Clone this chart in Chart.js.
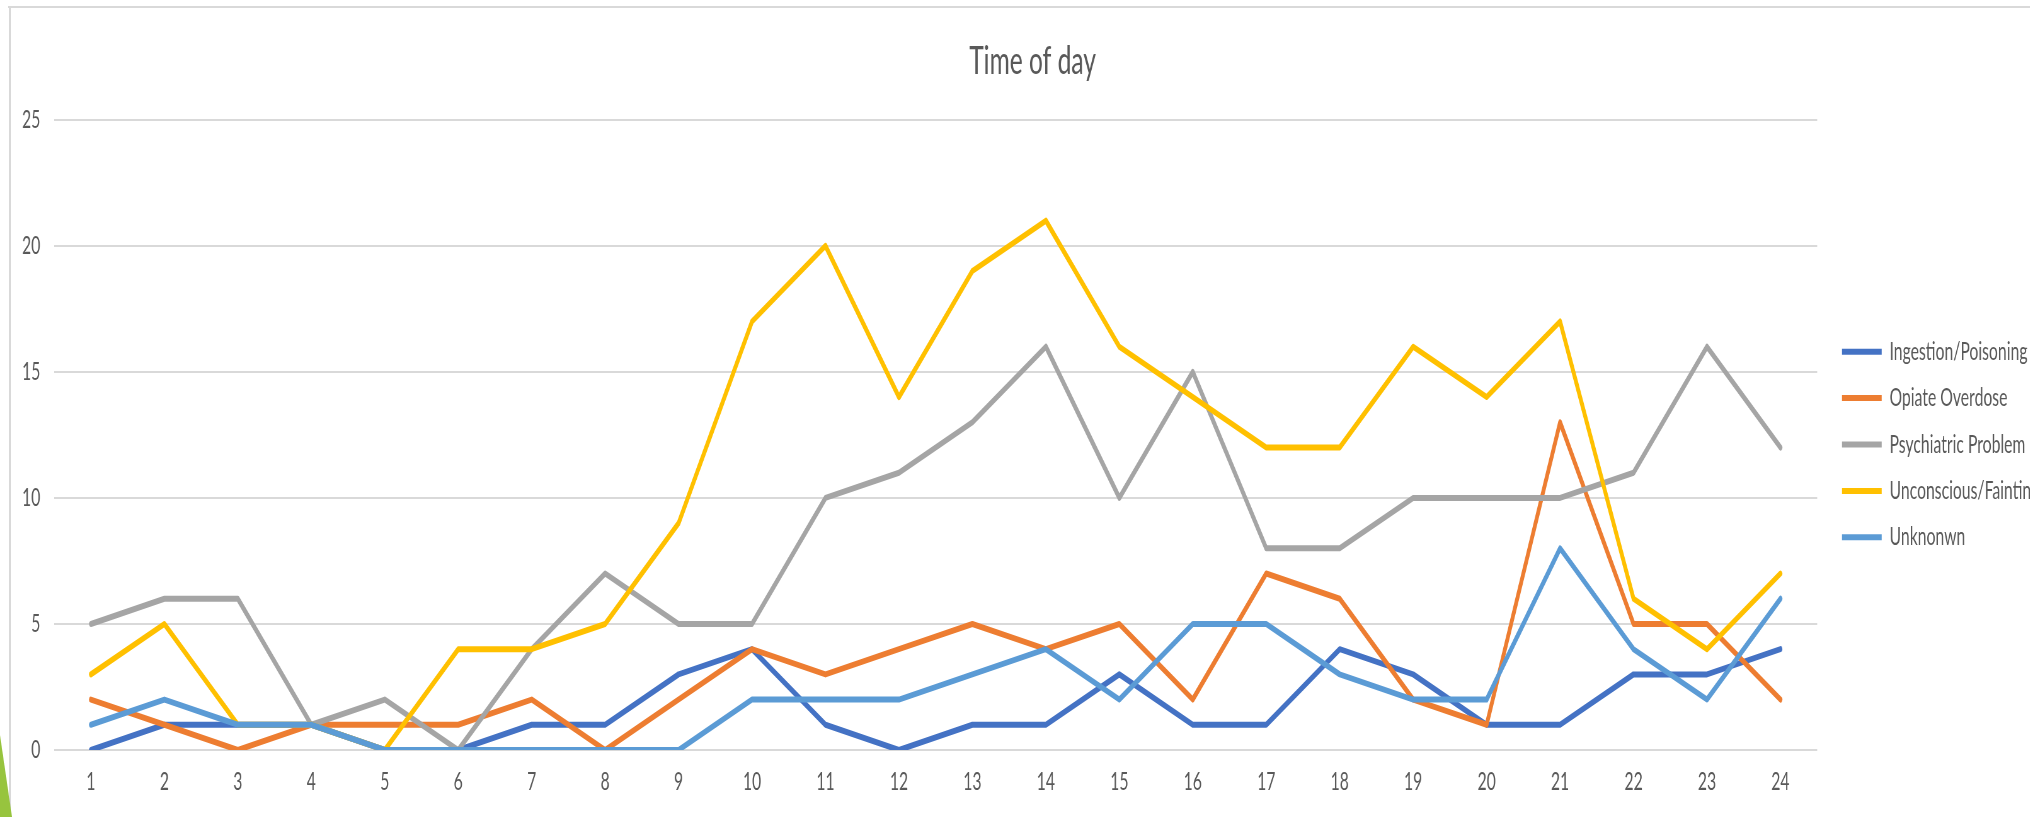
<!DOCTYPE html>
<html>
<head>
<meta charset="utf-8">
<script src="https://cdn.jsdelivr.net/npm/chart.js@4/dist/chart.umd.min.js"></script>
<style>
  html, body { margin: 0; padding: 0; background: #fff; }
  body { width: 2030px; height: 817px; overflow: hidden; position: relative; }
  /* slide frame bits around the chart */
  .frame-top { position: absolute; left: 8px; right: 0; top: 6px; height: 2px; background: #d9d9d9; }
  .frame-left { position: absolute; left: 9px; top: 6px; width: 2px; height: 811px; background: #d9d9d9; }
  .wedge { position: absolute; left: 0; top: 735px; width: 12px; height: 82px; background: #97c43e;
           clip-path: polygon(0 0, 100% 100%, 0 100%); }
  /* the source picture is squeezed horizontally, so the chart is drawn wide and squeezed the same way */
  #wrap { position: absolute; left: 0; top: 0; width: 3278px; height: 817px;
          transform: scaleX(0.63); transform-origin: 0 0; }
</style>
</head>
<body>
<div class="frame-top"></div>
<div class="frame-left"></div>
<div class="wedge"></div>
<div id="wrap"><canvas id="timeChart"></canvas></div>

<script>
// --- DATA (hour of day, calls per category) ---
const hours = ['1','2','3','4','5','6','7','8','9','10','11','12','13','14','15','16','17','18','19','20','21','22','23','24'];

const ingestionPoisoning = [0, 1, 1, 1, 0, 0, 1, 1, 3, 4, 1, 0, 1, 1, 3, 1, 1, 4, 3, 1, 1, 3, 3, 4];
const opiateOverdose     = [2, 1, 0, 1, 1, 1, 2, 0, 2, 4, 3, 4, 5, 4, 5, 2, 7, 6, 2, 1, 13, 5, 5, 2];
const psychiatricProblem = [5, 6, 6, 1, 2, 0, 4, 7, 5, 5, 10, 11, 13, 16, 10, 15, 8, 8, 10, 10, 10, 11, 16, 12];
const unconsciousFaint   = [3, 5, 1, 1, 0, 4, 4, 5, 9, 17, 20, 14, 19, 21, 16, 14, 12, 12, 16, 14, 17, 6, 4, 7];
const unknownCalls       = [1, 2, 1, 1, 0, 0, 0, 0, 0, 2, 2, 2, 3, 4, 2, 5, 5, 3, 2, 2, 8, 4, 2, 6];

const seriesNames  = ['Ingestion/Poisoning', 'Opiate Overdose', 'Psychiatric Problem', 'Unconscious/Fainting', 'Unknonwn'];
const seriesValues = [ingestionPoisoning, opiateOverdose, psychiatricProblem, unconsciousFaint, unknownCalls];
const seriesColors = ['#4472C4', '#ED7D31', '#A5A5A5', '#FFC000', '#5B9BD5'];

const yTicks = { min: 0, max: 25, step: 5 };

const textGrey = '#595959';
const gridGrey = '#d9d9d9';

// Excel paints the last series on top, chart.js paints the lowest "order" on top
const datasets = seriesNames.map((name, i) => ({
    label: name,
    data: seriesValues[i],
    borderColor: seriesColors[i],
    backgroundColor: seriesColors[i],
    borderWidth: 6,
    pointRadius: 0,
    pointHoverRadius: 0,
    tension: 0,
    borderJoinStyle: 'round',
    borderCapStyle: 'round',
    order: seriesNames.length - i
}));

// blank boxes used only to push things sideways
const spacer = (w, weight) => ({
    type: 'linear',
    position: 'right',
    display: true,
    weight: weight,
    grid: { display: false },
    border: { display: false },
    ticks: { display: false },
    afterFit: (axis) => { axis.width = w; }
});

const ctx = document.getElementById('timeChart').getContext('2d');

new Chart(ctx, {
    type: 'line',
    data: { labels: hours, datasets: datasets },
    options: {
        responsive: true,
        maintainAspectRatio: false,
        animation: false,
        layout: { padding: 0 },
        scales: {
            x: {
                offset: true,
                grid: { display: false },
                border: { display: false },
                ticks: { color: textGrey, padding: 9, font: { family: 'Lato', size: 25 } },
                afterFit: (axis) => { axis.height = 67; }
            },
            y: {
                min: yTicks.min,
                max: yTicks.max,
                grid: { color: gridGrey, lineWidth: 2, drawTicks: false },
                border: { display: false },
                ticks: { stepSize: yTicks.step, color: textGrey, padding: 22, font: { family: 'Lato', size: 25 } },
                afterFit: (axis) => { axis.width = 86; }
            },
            gap: spacer(18, 0),       // between plot and legend
            edge: spacer(31, 1500)    // beyond the legend, off the page
        },
        plugins: {
            title: {
                display: true,
                text: 'Time of day',
                color: textGrey,
                font: { family: 'Lato', size: 39, weight: 400 },
                padding: { top: 38, bottom: 35 }
            },
            legend: {
                position: 'right',
                align: 'center',
                title: { display: true, text: ' ', padding: { top: 60, bottom: 0 }, font: { size: 10 } },
                labels: {
                    usePointStyle: true,
                    pointStyle: 'line',
                    pointStyleWidth: 63,
                    padding: 21.4,
                    color: textGrey,
                    font: { family: 'Lato', size: 25 },
                    sort: (a, b) => a.datasetIndex - b.datasetIndex
                }
            },
            tooltip: { enabled: false }
        }
    }
});
</script>
</body>
</html>
